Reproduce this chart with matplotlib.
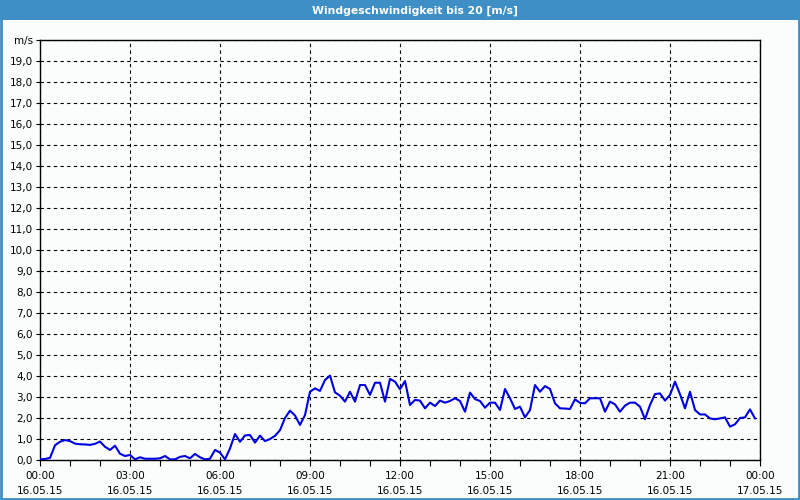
import numpy as np
import matplotlib
matplotlib.use("Agg")
import matplotlib.pyplot as plt
from matplotlib.patches import Rectangle

# Windgeschwindigkeit in m/s, 10-Minuten-Werte ab 16.05.15 00:00
wind = [
    0.03, 0.05, 0.10, 0.70, 0.87, 0.95, 0.90, 0.78, 0.75, 0.74, 0.72, 0.77,
    0.88, 0.63, 0.48, 0.68, 0.30, 0.19, 0.24, 0.03, 0.13, 0.06, 0.06, 0.06,
    0.08, 0.19, 0.03, 0.03, 0.15, 0.19, 0.08, 0.29, 0.13, 0.03, 0.06, 0.48,
    0.35, 0.03, 0.55, 1.24, 0.87, 1.17, 1.19, 0.83, 1.16, 0.90, 1.00, 1.15,
    1.42, 2.00, 2.35, 2.12, 1.67, 2.14, 3.25, 3.41, 3.29, 3.81, 4.02, 3.22,
    3.06, 2.78, 3.25, 2.78, 3.57, 3.57, 3.10, 3.68, 3.68, 2.78, 3.86, 3.73,
    3.37, 3.76, 2.62, 2.86, 2.83, 2.46, 2.73, 2.57, 2.83, 2.73, 2.81, 2.94,
    2.81, 2.30, 3.21, 2.90, 2.81, 2.49, 2.73, 2.73, 2.38, 3.38, 2.94, 2.43,
    2.54, 2.03, 2.38, 3.57, 3.25, 3.52, 3.38, 2.70, 2.46, 2.45, 2.43, 2.89,
    2.72, 2.70, 2.94, 2.94, 2.94, 2.30, 2.78, 2.65, 2.30, 2.59, 2.73, 2.73,
    2.54, 1.94, 2.62, 3.14, 3.17, 2.83, 3.10, 3.73, 3.13, 2.46, 3.25, 2.38,
    2.17, 2.17, 1.98, 1.94, 1.98, 2.03, 1.59, 1.70, 2.00, 2.03, 2.41, 1.98,
]
hours = np.arange(len(wind)) / 6.0

tick_hours = [0, 3, 6, 9, 12, 15, 18, 21, 24]
tick_times = ["00:00", "03:00", "06:00", "09:00", "12:00", "15:00", "18:00", "21:00", "00:00"]
tick_dates = ["16.05.15"] * 8 + ["17.05.15"]
y_ticks = list(range(0, 21))

title = "Windgeschwindigkeit bis 20 [m/s]"
blue_bar = "#3d8fc6"

fig = plt.figure(figsize=(8, 5), dpi=100, facecolor="#fbfdfd")

# Titelleiste und Rahmen
fig.patches.append(Rectangle((0, 0.96), 1, 0.04, transform=fig.transFigure,
                             facecolor=blue_bar, edgecolor="none", zorder=0))
fig.patches.append(Rectangle((0.001, 0.002), 0.998, 0.99, transform=fig.transFigure,
                             facecolor="none", edgecolor=blue_bar, linewidth=2, zorder=0))
fig.text(0.519, 0.979, title, color="white", fontsize=7.8, fontweight="bold",
         ha="center", va="center")

ax = fig.add_axes([0.05, 0.08, 0.9, 0.84])
ax.set_facecolor("#fbfdfd")
ax.plot(hours, wind, color="#0000e0", linewidth=1.5, zorder=3)

ax.set_xlim(0, 24)
ax.set_ylim(0, 20)

ax.set_yticks(y_ticks)
ylabels = [f"{v},0" for v in y_ticks]
ylabels[-1] = "m/s"
ax.set_yticklabels(ylabels, fontsize=7.5)

ax.set_xticks(tick_hours)
ax.set_xticklabels([f"{t}\n{d}" for t, d in zip(tick_times, tick_dates)],
                   fontsize=7.5, linespacing=1.6)
ax.set_xticks(range(0, 25), minor=True)

ax.tick_params(axis="y", which="major", length=3, width=0.8, pad=2, colors="black")
ax.tick_params(axis="x", which="major", length=4, width=0.8, pad=4, colors="black")
ax.tick_params(axis="x", which="minor", length=4, width=0.8)

ax.grid(True, which="major", color="black", linestyle=(0, (3, 3)), linewidth=0.8)
for s in ax.spines.values():
    s.set_linewidth(1.0)

fig.savefig("out.png", dpi=100, facecolor=fig.get_facecolor())
